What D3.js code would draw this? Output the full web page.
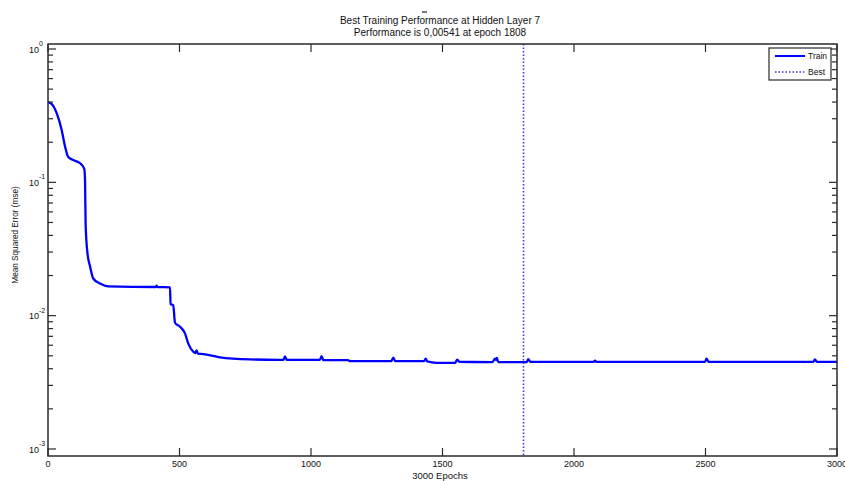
<!DOCTYPE html>
<html><head><meta charset="utf-8">
<script src="https://cdn.jsdelivr.net/npm/d3@7"></script>
<style>body{margin:0;background:#fff}svg{display:block}text{font-family:"Liberation Sans",Arial,sans-serif;fill:#111}</style>
</head><body><svg id="c" width="845" height="481"></svg>
<script>
const titleLines = ["Best Training Performance at Hidden Layer 7", "Performance is 0,00541 at epoch 1808"];
const xLabel = "3000 Epochs";
const yLabel = "Mean Squared Error  (mse)";
const xTicks = [0, 500, 1000, 1500, 2000, 2500, 3000];
const yTickExps = [0, -1, -2, -3];
const bestEpoch = 1808;
const legendLabels = ["Train", "Best"];
const epochs = [0,15,33,52,65,77,96,122,138,141,143,150,160,172,198,229,410,413,416,464,466,476,483,502,521,533,553,560,565,570,590,654,768,882,895,901,908,1034,1040,1047,1140,1150,1305,1313,1320,1430,1436,1442,1478,1548,1556,1565,1690,1700,1704,1707,1712,1820,1826,1834,2075,2080,2085,2498,2504,2512,2910,2916,2924,3000];
const mse = [0.40,0.385,0.33,0.247,0.185,0.155,0.147,0.139,0.126,0.100,0.049,0.0295,0.0234,0.0190,0.0174,0.0166,0.0164,0.0168,0.0164,0.0163,0.0122,0.0120,0.00885,0.00826,0.00736,0.0062,0.00536,0.00525,0.00548,0.0052,0.00515,0.00487,0.00470,0.00466,0.00466,0.00495,0.00466,0.00466,0.00497,0.00464,0.00464,0.00456,0.00456,0.00485,0.00456,0.00456,0.00476,0.00454,0.00443,0.00443,0.00468,0.00450,0.00449,0.00476,0.00465,0.00482,0.00449,0.00449,0.00472,0.00450,0.00450,0.00460,0.00450,0.00450,0.00477,0.00450,0.00450,0.00470,0.00450,0.00450];

const svg = d3.select("#c");
const L = 48, R = 837, T = 44, B = 456;
const x = d3.scaleLinear().domain([0, 3000]).range([L, R]);
const y = d3.scaleLog().domain([Math.pow(10, -3.0525), Math.pow(10, 0.0375)]).range([B, T]);
const axisCol = "#2a2a2a";

// title
svg.append("line").attr("x1", 422).attr("x2", 427).attr("y1", 12).attr("y2", 12).attr("stroke", "#222").attr("stroke-width", 1.2);
titleLines.forEach((t, i) => svg.append("text").attr("x", 440).attr("y", 23.5 + i * 12).attr("text-anchor", "middle").attr("font-size", 10).text(t));

// curve
const line = d3.line().x((d, i) => x(epochs[i])).y((d) => y(d)).curve(d3.curveMonotoneX);
svg.append("path").datum(mse).attr("d", line).attr("fill", "none").attr("stroke", "#0000ff").attr("stroke-width", 2.3).attr("stroke-linejoin", "round");

// best line
svg.append("line").attr("x1", x(bestEpoch)).attr("x2", x(bestEpoch)).attr("y1", T).attr("y2", B)
  .attr("stroke", "#3b3bdd").attr("stroke-width", 1.6).attr("stroke-dasharray", "1.5,2");

// frame
svg.append("rect").attr("x", L).attr("y", T).attr("width", R - L).attr("height", B - T).attr("fill", "none").attr("stroke", axisCol).attr("stroke-width", 1.5);

// x ticks
const g = svg.append("g").attr("stroke", axisCol).attr("stroke-width", 1.2);
xTicks.forEach(v => {
  g.append("line").attr("x1", x(v)).attr("x2", x(v)).attr("y1", B).attr("y2", B - 8);
  g.append("line").attr("x1", x(v)).attr("x2", x(v)).attr("y1", T).attr("y2", T + 8);
  svg.append("text").attr("x", x(v)).attr("y", 467).attr("text-anchor", "middle").attr("font-size", 9).text(v);
});
// y ticks major and minor
yTickExps.forEach(e => {
  const v = Math.pow(10, e);
  g.append("line").attr("x1", L).attr("x2", L + 8).attr("y1", y(v)).attr("y2", y(v));
  g.append("line").attr("x1", R).attr("x2", R - 8).attr("y1", y(v)).attr("y2", y(v));
  svg.append("text").attr("x", 39).attr("y", y(v) + 3.5).attr("text-anchor", "end").attr("font-size", 9).text("10");
  svg.append("text").attr("x", 39).attr("y", y(v) - 3).attr("font-size", 7).text(String(e));
  if (e > -3) {
    for (let k = 2; k <= 9; k++) {
      const mv = k * Math.pow(10, e - 1);
      g.append("line").attr("x1", L).attr("x2", L + 5).attr("y1", y(mv)).attr("y2", y(mv));
      g.append("line").attr("x1", R).attr("x2", R - 5).attr("y1", y(mv)).attr("y2", y(mv));
    }
  }
});

// axis labels
svg.append("text").attr("x", 440).attr("y", 479).attr("text-anchor", "middle").attr("font-size", 9.5).text(xLabel);
svg.append("text").attr("transform", "translate(18,235) rotate(-90)").attr("text-anchor", "middle").attr("font-size", 8.2).text(yLabel);

// legend
svg.append("rect").attr("x", 769).attr("y", 48).attr("width", 62).attr("height", 32).attr("fill", "#fff").attr("stroke", axisCol).attr("stroke-width", 1.2);
svg.append("line").attr("x1", 775).attr("x2", 805).attr("y1", 56).attr("y2", 56).attr("stroke", "#0000ff").attr("stroke-width", 2);
svg.append("line").attr("x1", 775).attr("x2", 805).attr("y1", 72).attr("y2", 72).attr("stroke", "#3b3bdd").attr("stroke-width", 1.4).attr("stroke-dasharray", "1.5,2");
legendLabels.forEach((t, i) => svg.append("text").attr("x", 808).attr("y", 59 + i * 16).attr("font-size", 8.5).text(t));
</script></body></html>
